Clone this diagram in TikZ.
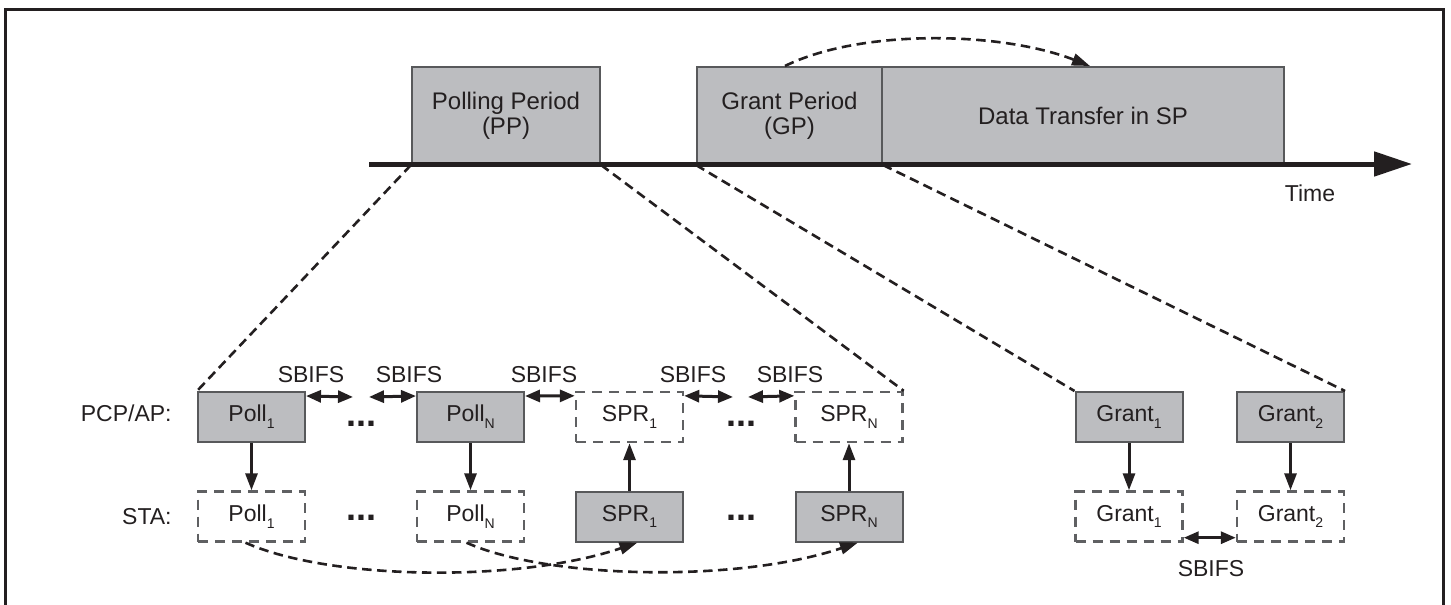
\documentclass[tikz,border=0pt]{standalone}
\usepackage{fontspec}
\setmainfont{Liberation Sans}
\usetikzlibrary{arrows.meta}

\definecolor{ink}{HTML}{231F20}
\definecolor{boxfill}{HTML}{BCBDC0}
\definecolor{boxline}{HTML}{58595B}
\definecolor{dashline}{HTML}{5F6062}

% small lowered index, as in Poll_1
\newcommand{\lowix}[1]{\raisebox{-0.55ex}{\fontsize{7}{7}\selectfont #1}}

\begin{document}
\begin{tikzpicture}[x=0.5pt,y=-0.5pt,
  every node/.style={text=ink, font=\fontsize{11.5}{12.5}\selectfont},
  period/.style={draw=boxline, fill=boxfill, line width=1pt, inner sep=0pt,
    align=center, minimum height=48.5pt, font=\fontsize{12}{12.5}\selectfont},
  fullbox/.style={draw=boxline, fill=boxfill, line width=1pt, inner sep=0pt,
    minimum width=53.5pt, minimum height=25pt},
  emptybox/.style={draw=dashline, line width=1.2pt, dash pattern=on 5pt off 3.5pt,
    inner sep=0pt, minimum width=53.5pt, minimum height=25pt},
  guide/.style={draw=ink, line width=1.3pt, dash pattern=on 4.75pt off 2.75pt},
  msg/.style={draw=ink, line width=1.5pt, -{Triangle[length=8.5pt,width=6pt]}},
  gap/.style={draw=ink, line width=1.5pt,
    {Triangle[length=7.5pt,width=6pt]}-{Triangle[length=7.5pt,width=6pt]}},
  dots/.style={font=\fontsize{18}{18}\selectfont\bfseries, inner sep=0pt},
  rowlabel/.style={anchor=east, inner sep=0pt},
  gaplabel/.style={inner sep=0pt},
]
\useasboundingbox (0,0) rectangle (1451,605);

% outer frame (open at the bottom edge of the page)
\draw[ink, line width=1.5pt] (5,640) -- (5,9) -- (1443,9) -- (1443,640);

% periods on the time axis
\node[period, minimum width=94pt]   (pp) at (506,115.5)   {Polling Period\\(PP)};
\node[period, minimum width=92.5pt] (gp) at (789.5,115.5) {Grant Period\\(GP)};
\node[period, minimum width=201pt]  (dt) at (1083,115.5)  {Data Transfer in SP};

% time axis
\coordinate (t0) at (369,164);
\coordinate (t1) at (1412,164);
\draw[ink, line width=2.5pt, -{Triangle[length=19pt,width=12pt]}] (t0) -- (t1);
\node (time) at (1310,193) {Time};

% grant period leads to the data transfer
\draw[guide, -{Triangle[length=9pt,width=6pt]}]
  ([xshift=-2.25pt]gp.north) .. controls +(75,-37) and +(-90,-35) .. ([xshift=3.5pt]dt.north);

% row labels
\node[rowlabel] (rowa) at (172,413) {PCP/AP:};
\node[rowlabel] (rowb) at (172,517) {STA:};

% PCP/AP row
\node[fullbox]  (p1) at (251.5,417) {Poll\lowix{1}};
\node[fullbox]  (pN) at (470.5,417) {Poll\lowix{N}};
\node[emptybox] (s1) at (629.5,417) {SPR\lowix{1}};
\node[emptybox] (sN) at (849,417)   {SPR\lowix{N}};
\node[fullbox]  (g1) at (1129,417)  {Grant\lowix{1}};
\node[fullbox]  (g2) at (1290.5,417) {Grant\lowix{2}};

% STA row
\node[emptybox] (q1) at (251.5,516.5) {Poll\lowix{1}};
\node[emptybox] (qN) at (470.5,516.5) {Poll\lowix{N}};
\node[fullbox]  (r1) at (629.5,516.5) {SPR\lowix{1}};
\node[fullbox]  (rN) at (849,516.5)   {SPR\lowix{N}};
\node[emptybox] (h1) at (1129,516.5)  {Grant\lowix{1}};
\node[emptybox] (h2) at (1290.5,516.5) {Grant\lowix{2}};

% ellipses between boxes
\node[dots] (d1) at (361,424) {...};
\node[dots] (d2) at (741,424) {...};
\node[dots] (d3) at (361,518) {...};
\node[dots] (d4) at (741,518) {...};

% zoom-in guides from the time axis
\draw[guide] (pp.south west) -- (p1.north west);
\draw[guide] (pp.south east) -- (sN.north east);
\draw[guide] (gp.south west) -- (g1.north west);
\draw[guide] (gp.south east) -- (g2.north east);

% poll / response exchanges
\draw[msg] (p1) -- (q1);
\draw[msg] (pN) -- (qN);
\draw[msg] (r1) -- (s1);
\draw[msg] (rN) -- (sN);
\draw[msg] (g1) -- (h1);
\draw[msg] (g2) -- (h2);

% interframe spaces
\coordinate (e1) at (353,397);
\coordinate (e2) at (369,397);
\coordinate (e3) at (733,397);
\coordinate (e4) at (748,397);
\draw[gap] ([yshift=-2.5pt]p1.north east) -- (e1);
\draw[gap] (e2) -- ([yshift=-2.5pt]pN.north west);
\draw[gap] ([yshift=-2.5pt]pN.north east) -- ([yshift=-2.5pt]s1.north west);
\draw[gap] ([yshift=-2.5pt]s1.north east) -- (e3);
\draw[gap] (e4) -- ([yshift=-2.5pt]sN.north west);
\draw[gap] ([yshift=2.5pt]h1.south east) -- ([yshift=2.5pt]h2.south west);

\node[gaplabel] (l1) at (311,375) {SBIFS};
\node[gaplabel] (l2) at (409,375) {SBIFS};
\node[gaplabel] (l3) at (544,375) {SBIFS};
\node[gaplabel] (l4) at (693,375) {SBIFS};
\node[gaplabel] (l5) at (790,375) {SBIFS};
\node[gaplabel] (l6) at (1211,569) {SBIFS};

% each received poll is answered later by its SPR
\draw[guide, -{Triangle[length=9pt,width=6pt]}]
  ([xshift=-3pt]q1.south) .. controls +(85,38) and +(-117,40) .. ([xshift=4pt]r1.south);
\draw[guide, -{Triangle[length=9pt,width=6pt]}]
  ([xshift=-2pt]qN.south) .. controls +(83,37) and +(-118,40) .. ([xshift=4.5pt]rN.south);
\end{tikzpicture}
\end{document}
